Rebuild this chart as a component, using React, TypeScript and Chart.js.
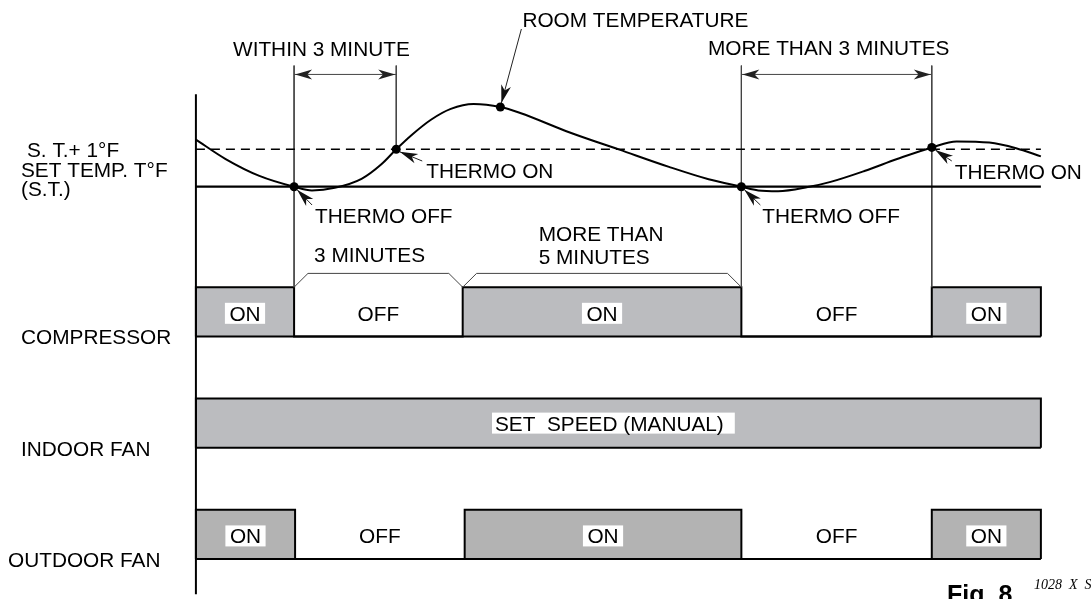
import React, { useEffect, useRef } from 'react';
import { Chart, registerables } from 'chart.js';

Chart.register(...registerables);

// ---------------- data ----------------
// time in arbitrary units from the start of the trace, temperature in °F relative to the set temperature (S.T.)
const roomTempTimes = [0, 3.0, 6.4, 9.9, 11.7, 14.0, 16.7, 18.7, 20.2, 21.7, 23.7, 25.7, 28.0, 30.7, 32.7, 37.7, 42.7, 47.7, 51.7, 55.0, 56.7, 58.7, 61.7, 64.0, 67.4, 70.7, 74.2, 76.7, 80.0, 82.7, 85.2];
const roomTempValues = [1.26, 0.74, 0.29, 0, -0.1, -0.03, 0.21, 0.6, 1.0, 1.37, 1.79, 2.08, 2.21, 2.13, 1.97, 1.45, 0.99, 0.53, 0.2, 0, -0.1, -0.12, -0.01, 0.13, 0.42, 0.74, 1.05, 1.21, 1.18, 1.03, 0.81];
const markerTimes = [9.9, 20.2, 30.7, 55.0, 74.2];
const markerTemps = [0, 1.0, 2.13, 0, 1.05];
const thermoOffTimes = [9.9, 55.0];
const thermoOnTimes = [20.2, 74.2];
const roomTempMarkerTime = 30.7;
const setTemp = 0;
const setTempPlusOne = 1;
const timeEnd = 85.2;
const withinSpan = [9.9, 20.2];
const moreThan3Span = [55.0, 74.2];
const threeMinSpan = [9.9, 26.9];
const moreThan5Span = [26.9, 55.0];
const compressorTimes = [0, 9.9, 26.9, 55.0, 74.2, 85.2];
const compressorStates = [1, 0, 1, 0, 1];
const indoorFanTimes = [0, 85.2];
const indoorFanStates = [1];
const outdoorFanTimes = [0, 10.0, 27.1, 55.0, 74.2, 85.2];
const outdoorFanStates = [1, 0, 1, 0, 1];
const stateText = ['OFF', 'ON'];
const indoorFanText = 'SET  SPEED (MANUAL)';
const rowNames = ['COMPRESSOR', 'INDOOR FAN', 'OUTDOOR FAN'];
const tempLabels = ['S. T.+ 1°F', 'SET TEMP. T°F', '(S.T.)'];

// ---------------- layout ----------------
const W = 1091;
const H = 599;
const X_MIN = -19.3;
const X_MAX = 89.8;
const T_MAX = 185 / 38;
const T_MIN = (185 - 599) / 38;
const L_MAX = 337 / 113;
const L_MIN = -(599 - 337) / 113;
const ROW_BASE = [0, -1, -2];
const ON_H = 50 / 113;
const FONT = '20.8px "Liberation Sans", Arial, sans-serif';
const GRAY_A = '#bbbcbf';
const GRAY_B = '#b3b3b3';

const px2temp = (p: number) => T_MAX - (p / H) * (T_MAX - T_MIN);
const lane2px = (v: number) => ((L_MAX - v) / (L_MAX - L_MIN)) * H;

function signal(times: number[], states: number[], base: number, color: string) {
  const pts: { x: number; y: number }[] = [{ x: times[0], y: base }];
  states.forEach((s, i) => pts.push({ x: times[i], y: base + s * ON_H }));
  const last = times[times.length - 1];
  pts.push({ x: last, y: base + states[states.length - 1] * ON_H });
  pts.push({ x: last, y: base });
  return {
    type: 'line',
    data: pts,
    yAxisID: 'lane',
    stepped: true,
    borderColor: '#000',
    borderWidth: 2,
    borderJoinStyle: 'miter',
    backgroundColor: color,
    fill: { value: base },
    pointRadius: 0,
    order: 10,
  };
}

function seg(points: { x: number; y: number }[], axis: string, color: string, width: number, order: number, dash?: number[]) {
  return {
    type: 'line',
    data: points,
    yAxisID: axis,
    borderColor: color,
    borderWidth: width,
    borderDash: dash || [],
    pointRadius: 0,
    fill: false,
    tension: 0,
    order,
  };
}

function bracket(span: number[]) {
  const up = ON_H + 14 / 113;
  return seg(
    [
      { x: span[0], y: ON_H },
      { x: span[0] + 1.4, y: up },
      { x: span[1] - 1.4, y: up },
      { x: span[1], y: ON_H },
    ],
    'lane', '#444', 1, 4
  );
}

function arrowHead(ctx: CanvasRenderingContext2D, tx: number, ty: number, fx: number, fy: number, len: number, half: number) {
  const a = Math.atan2(ty - fy, tx - fx);
  const c = Math.cos(a), s = Math.sin(a);
  const bx = tx - len * c, by = ty - len * s;
  ctx.beginPath();
  ctx.moveTo(tx, ty);
  ctx.lineTo(bx - s * half, by + c * half);
  ctx.lineTo(tx - len * 0.72 * c, ty - len * 0.72 * s);
  ctx.lineTo(bx + s * half, by - c * half);
  ctx.closePath();
  ctx.fill();
}

function pointer(ctx: CanvasRenderingContext2D, fx: number, fy: number, tx: number, ty: number) {
  ctx.beginPath();
  ctx.moveTo(fx, fy);
  ctx.lineTo(tx, ty);
  ctx.stroke();
  arrowHead(ctx, tx, ty, fx, fy, 18, 5);
}

function text(ctx: CanvasRenderingContext2D, s: string, x: number, capCenter: number, align: CanvasTextAlign = 'left', font = FONT) {
  ctx.font = font;
  ctx.textAlign = align;
  ctx.textBaseline = 'alphabetic';
  ctx.fillText(s, x, capCenter + 7.4);
}

const annotations = {
  id: 'annotations',
  afterDatasetsDraw(chart: any) {
    const ctx: CanvasRenderingContext2D = chart.ctx;
    const xs = chart.scales.x, ys = chart.scales.y, ls = chart.scales.lane;
    const px = (t: number) => xs.getPixelForValue(t);
    const py = (v: number) => ys.getPixelForValue(v);
    const pl = (v: number) => ls.getPixelForValue(v);
    const markerAt = (t: number) => {
      const i = markerTimes.indexOf(t);
      return { x: px(t), y: py(markerTemps[i]) };
    };
    ctx.save();
    ctx.fillStyle = '#000';
    ctx.strokeStyle = '#222';
    ctx.lineWidth = 1;

    // dimension arrows
    const dimY = py(3.0);
    [withinSpan, moreThan3Span].forEach((sp) => {
      const a = px(sp[0]), b = px(sp[1]);
      ctx.strokeStyle = '#444';
      ctx.beginPath();
      ctx.moveTo(a, dimY);
      ctx.lineTo(b, dimY);
      ctx.stroke();
      ctx.fillStyle = '#222';
      arrowHead(ctx, a + 1, dimY, b, dimY, 17, 5);
      arrowHead(ctx, b - 1, dimY, a, dimY, 17, 5);
    });

    // pointers
    ctx.strokeStyle = '#222';
    ctx.fillStyle = '#111';
    const rt = markerAt(roomTempMarkerTime);
    pointer(ctx, rt.x + 21, 29, rt.x + 1, rt.y - 4);
    const offTail = [[18, 205], [19, 205]];
    thermoOffTimes.forEach((t, i) => {
      const m = markerAt(t);
      pointer(ctx, m.x + offTail[i][0], offTail[i][1], m.x + 3, m.y + 3);
    });
    const onTail = [[26, 161], [20, 161]];
    thermoOnTimes.forEach((t, i) => {
      const m = markerAt(t);
      pointer(ctx, m.x + onTail[i][0], onTail[i][1], m.x + 3.5, m.y + 2.5);
    });

    // texts
    ctx.fillStyle = '#000';
    text(ctx, 'ROOM TEMPERATURE', rt.x + 22, 19.5);
    text(ctx, 'WITHIN 3 MINUTE', 233, 48.5);
    text(ctx, 'MORE THAN 3 MINUTES', 708, 48);
    text(ctx, tempLabels[0], 27, 150);
    text(ctx, tempLabels[1], 21, 170);
    text(ctx, tempLabels[2], 21, 189);
    text(ctx, 'THERMO OFF', px(thermoOffTimes[0]) + 21, 216);
    text(ctx, 'THERMO OFF', px(thermoOffTimes[1]) + 21, 216);
    text(ctx, 'THERMO ON', px(thermoOnTimes[0]) + 30, 170.5);
    text(ctx, 'THERMO ON', px(thermoOnTimes[1]) + 23, 171.5);
    text(ctx, '3 MINUTES', px(threeMinSpan[0]) + 20, 255);
    text(ctx, 'MORE THAN', px(moreThan5Span[0]) + 76, 234);
    text(ctx, '5 MINUTES', px(moreThan5Span[0]) + 76, 257);
    const rowLabelX = [21, 21, 8];
    rowNames.forEach((n, i) => text(ctx, n, rowLabelX[i], pl(ROW_BASE[i]) + 0.5));

    // state labels inside the rows
    const rows = [
      { times: compressorTimes, states: compressorStates, base: ROW_BASE[0], shift: 0 },
      { times: indoorFanTimes, states: indoorFanStates, base: ROW_BASE[1], shift: -9 },
      { times: outdoorFanTimes, states: outdoorFanStates, base: ROW_BASE[2], shift: 0 },
    ];
    rows.forEach((r, ri) => {
      r.states.forEach((s, i) => {
        const cx = px((r.times[i] + r.times[i + 1]) / 2) + r.shift;
        const cy = pl(r.base + ON_H / 2) + (ri === 1 ? 0 : 1.5);
        const label = ri === 1 ? indoorFanText : stateText[s];
        ctx.font = FONT;
        if (s === 1) {
          const w = ctx.measureText(label).width + (ri === 1 ? 14 : 9);
          ctx.fillStyle = '#fff';
          ctx.fillRect(cx - w / 2 + (ri === 1 ? 4 : 0), cy - 10.5, w, 21);
        }
        ctx.fillStyle = '#000';
        text(ctx, label, cx, cy, 'center');
      });
    });

    // figure caption
    text(ctx, 'Fig. 8', 947, 596, 'left', 'bold 25px "Liberation Sans", Arial, sans-serif');
    text(ctx, '1028  X  S', 1034, 582, 'left', 'italic 14px "Liberation Serif", "Times New Roman", serif');
    ctx.restore();
  },
};

export default function App() {
  const ref = useRef<HTMLCanvasElement>(null);
  useEffect(() => {
    document.body.style.margin = '0';
    const canvas = ref.current;
    if (!canvas) return;
    const compTopTemp = px2temp(lane2px(ROW_BASE[0] + ON_H));
    const vTop = px2temp(62);
    const eventLines = [
      seg([{ x: thermoOffTimes[0], y: vTop }, { x: thermoOffTimes[0], y: compTopTemp }], 'y', '#444', 1, 3),
      seg([{ x: thermoOnTimes[0], y: vTop }, { x: thermoOnTimes[0], y: setTempPlusOne }], 'y', '#444', 1, 3),
      seg([{ x: thermoOffTimes[1], y: vTop }, { x: thermoOffTimes[1], y: compTopTemp }], 'y', '#444', 1, 3),
      seg([{ x: thermoOnTimes[1], y: vTop }, { x: thermoOnTimes[1], y: compTopTemp }], 'y', '#444', 1, 3),
    ];
    const chart = new Chart(canvas, {
      type: 'line',
      data: {
        datasets: [
          {
            type: 'line',
            data: markerTimes.map((t, i) => ({ x: t, y: markerTemps[i] })),
            yAxisID: 'y',
            showLine: false,
            pointRadius: 4.5,
            pointBackgroundColor: '#000',
            pointBorderColor: '#000',
            pointBorderWidth: 0,
            order: 0,
          },
          {
            type: 'line',
            data: roomTempTimes.map((t, i) => ({ x: t, y: roomTempValues[i] })),
            yAxisID: 'y',
            borderColor: '#000',
            borderWidth: 2,
            pointRadius: 0,
            fill: false,
            cubicInterpolationMode: 'monotone',
            order: 1,
          },
          seg([{ x: 0, y: setTemp }, { x: timeEnd, y: setTemp }], 'y', '#000', 2.2, 2),
          seg([{ x: 0, y: setTempPlusOne }, { x: timeEnd, y: setTempPlusOne }], 'y', '#000', 1.6, 2, [9, 6]),
          seg([{ x: 0, y: px2temp(91) }, { x: 0, y: T_MIN }], 'y', '#000', 2, 2),
          ...eventLines,
          bracket(threeMinSpan),
          bracket(moreThan5Span),
          ...ROW_BASE.map((b) => seg([{ x: 0, y: b }, { x: timeEnd, y: b }], 'lane', '#000', 2, 5)),
          signal(compressorTimes, compressorStates, ROW_BASE[0], GRAY_A),
          signal(indoorFanTimes, indoorFanStates, ROW_BASE[1], GRAY_A),
          signal(outdoorFanTimes, outdoorFanStates, ROW_BASE[2], GRAY_B),
        ] as any,
      },
      options: {
        responsive: false,
        maintainAspectRatio: false,
        animation: false,
        devicePixelRatio: 1,
        events: [],
        layout: { padding: 0 },
        plugins: { legend: { display: false }, tooltip: { enabled: false }, title: { display: false } },
        scales: {
          x: { type: 'linear', min: X_MIN, max: X_MAX, display: false },
          y: { type: 'linear', min: T_MIN, max: T_MAX, display: false },
          lane: { type: 'linear', min: L_MIN, max: L_MAX, display: false },
        },
      } as any,
      plugins: [annotations],
    });
    return () => chart.destroy();
  }, []);
  return (
    <div style={{ width: W, height: H, position: 'relative', background: '#fff', overflow: 'hidden' }}>
      <canvas ref={ref} width={W} height={H} style={{ display: 'block', width: W, height: H }} />
    </div>
  );
}
